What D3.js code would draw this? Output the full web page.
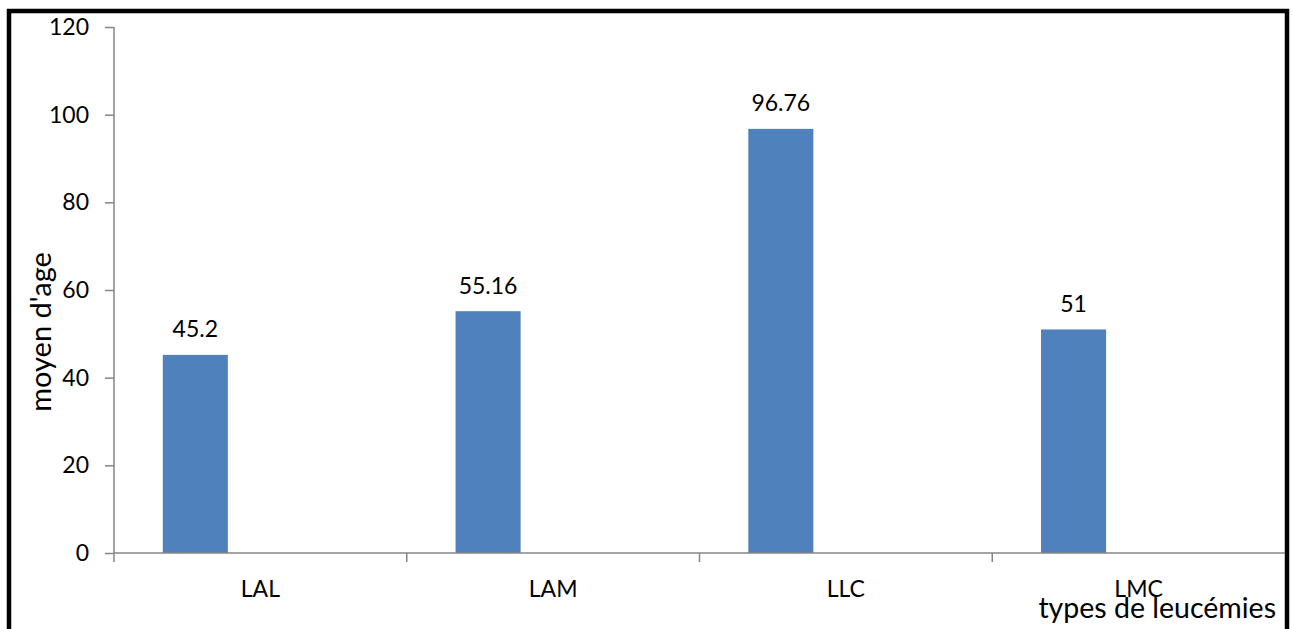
<!DOCTYPE html>
<html>
<head>
<meta charset="utf-8">
<script src="https://cdn.jsdelivr.net/npm/d3@7"></script>
<style>
  html, body { margin: 0; padding: 0; background: #fff; }
  svg { display: block; }
  text { font-family: Lato, "Noto Sans", sans-serif; fill: #000; }
</style>
</head>
<body>
<script>
const categories = ["LAL", "LAM", "LLC", "LMC"];
const values = [45.2, 55.16, 96.76, 51];
const valueLabels = ["45.2", "55.16", "96.76", "51"];
const yTicks = [0, 20, 40, 60, 80, 100, 120];
const yTitle = "moyen d'age";
const xTitle = "types de leucémies";

const W = 1293, H = 629;
const svg = d3.select("body").append("svg").attr("width", W).attr("height", H);

// frame
svg.append("rect").attr("x", 9).attr("y", 11).attr("width", 1278).attr("height", 700)
  .attr("fill", "none").attr("stroke", "#000").attr("stroke-width", 4.5);

const x = d3.scaleBand().domain(categories).range([114, 1285]).padding(0);
const slot = d3.scaleBand().domain([0, 1, 2]).range([0, x.bandwidth()]).paddingInner(0).paddingOuter(0.75);
const y = d3.scaleLinear().domain([0, 120]).range([553, 27]);

const axisColor = "#868686";

// bars
svg.selectAll("rect.bar").data(values).enter().append("rect")
  .attr("class", "bar")
  .attr("x", (d, i) => x(categories[i]) + slot(0))
  .attr("width", slot.bandwidth())
  .attr("y", d => y(d))
  .attr("height", d => y(0) - y(d))
  .attr("fill", "#4f81bd");

// y axis
const yAxis = svg.append("g").attr("transform", "translate(114,0)")
  .call(d3.axisLeft(y).tickValues(yTicks).tickSize(9).tickPadding(16).tickFormat(d3.format("d")));
yAxis.select(".domain").attr("stroke", axisColor).attr("stroke-width", 1.5).attr("d", `M0,${y(120)}V${y(0)}`);
yAxis.selectAll(".tick line").attr("stroke", axisColor).attr("stroke-width", 1.5);
yAxis.selectAll(".tick text").style("font-family", "Lato, 'Noto Sans', sans-serif").attr("font-size", 23).attr("fill", "#000");

// x axis
const xAxis = svg.append("g").attr("transform", `translate(0,${y(0)})`);
xAxis.append("line").attr("x1", 114).attr("x2", 1285).attr("y1", 0).attr("y2", 0)
  .attr("stroke", axisColor).attr("stroke-width", 1.5);
const bounds = categories.map(c => x(c));
xAxis.selectAll("line.xt").data(bounds).enter().append("line")
  .attr("class", "xt")
  .attr("x1", d => d).attr("x2", d => d).attr("y1", 0).attr("y2", 9)
  .attr("stroke", axisColor).attr("stroke-width", 1.5);
svg.selectAll("text.cat").data(categories).enter().append("text")
  .attr("class", "cat")
  .attr("x", d => x(d) + x.bandwidth() / 2)
  .attr("y", 597)
  .attr("text-anchor", "middle")
  .attr("font-size", 23)
  .text(d => d);

// value labels
svg.selectAll("text.val").data(values).enter().append("text")
  .attr("class", "val")
  .attr("x", (d, i) => x(categories[i]) + slot(0) + slot.bandwidth() / 2)
  .attr("y", d => y(d) - 17.5)
  .attr("text-anchor", "middle")
  .attr("font-size", 23)
  .text((d, i) => valueLabels[i]);

// titles
svg.append("text")
  .attr("transform", "translate(51,332) rotate(-90)")
  .attr("text-anchor", "middle")
  .attr("font-size", 29)
  .text(yTitle);
svg.append("text")
  .attr("x", 1276).attr("y", 618)
  .attr("text-anchor", "end")
  .attr("font-size", 28.5)
  .text(xTitle);
</script>
</body>
</html>
